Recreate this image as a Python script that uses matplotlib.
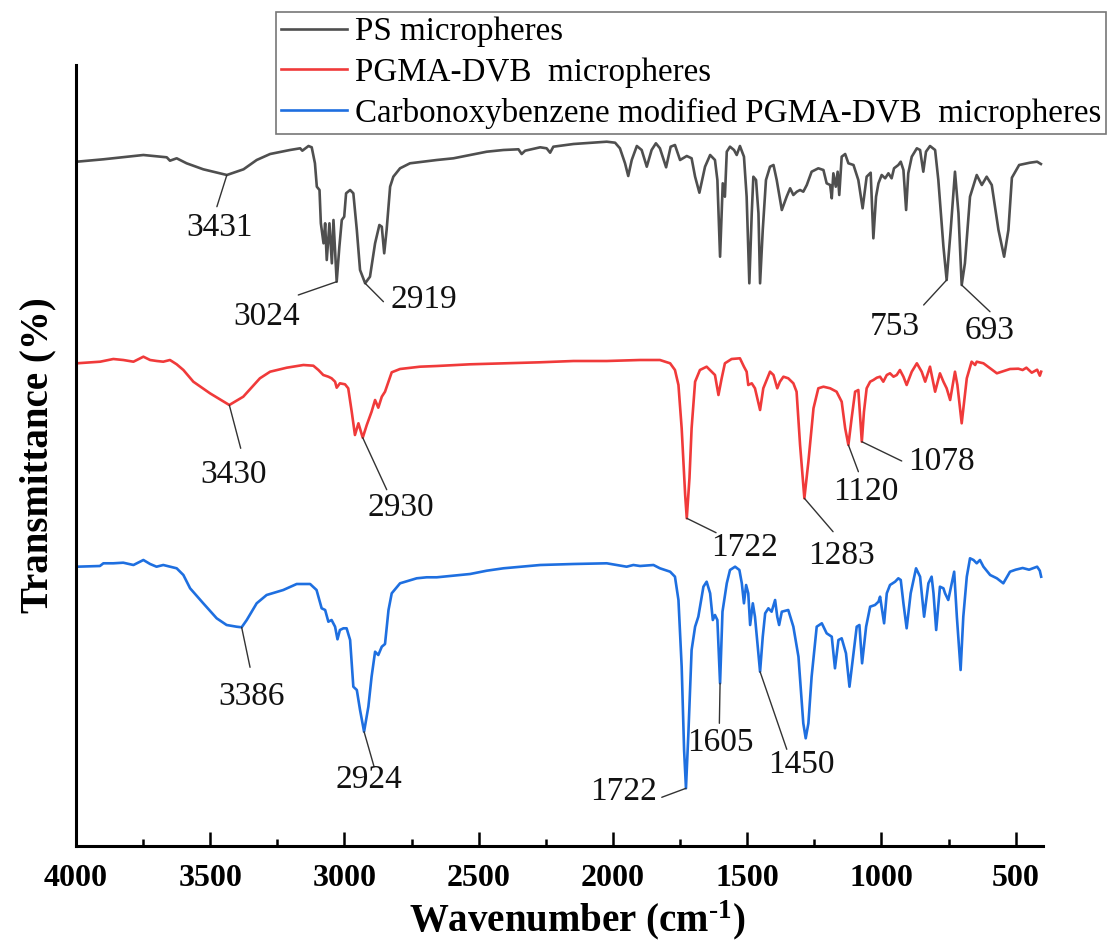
import numpy as np
import matplotlib
matplotlib.use("Agg")
import matplotlib.pyplot as plt
from matplotlib.ticker import MultipleLocator
from matplotlib.lines import Line2D

plt.rcParams['font.family'] = ['Liberation Serif', 'DejaVu Serif']
plt.rcParams['mathtext.fontset'] = 'custom'
plt.rcParams['mathtext.rm'] = 'Liberation Serif'
plt.rcParams['mathtext.bf'] = 'Liberation Serif:bold'
plt.rcParams['mathtext.default'] = 'regular'

# ---------------- data (wavenumber cm-1, transmittance a.u.) ----------------
PS_POINTS = [
    (3997, 684), (3898, 686.4), (3749, 690.7), (3662, 688.4), (3650, 685), (3625, 687.4),
    (3588, 682.4), (3526, 676.4), (3438, 670.7), (3376, 676.4), (3327, 685.7), (3277, 691.7),
    (3203, 695.7), (3165, 697.4), (3157, 695), (3134, 699.7), (3122, 698.4), (3110, 682.4),
    (3103, 659), (3093, 655.7), (3088, 622.4), (3078, 602.4), (3072, 622.4), (3066, 585.7),
    (3056, 622.4), (3047, 582.4), (3041, 625.7), (3029, 564), (3019, 599), (3010, 625.7),
    (3001, 629), (2994, 652.4), (2979, 655.7), (2967, 652.4), (2954, 615.7), (2942, 575.7),
    (2923, 562.4), (2905, 569), (2886, 602.4), (2870, 620.7), (2861, 619), (2852, 592.4),
    (2843, 615.7), (2830, 659), (2818, 669), (2793, 677.4), (2756, 682.4), (2656, 685.7),
    (2594, 687.4), (2532, 690.7), (2470, 694), (2408, 695.7), (2352, 696.4), (2340, 691.7),
    (2327, 695), (2271, 698.4), (2247, 697.4), (2234, 693), (2222, 699), (2147, 701.7),
    (2023, 704), (1992, 703), (1974, 697.4), (1955, 682.4), (1943, 669.7), (1930, 685.7),
    (1911, 699.7), (1893, 695.7), (1874, 679), (1856, 695.7), (1840, 702.4), (1825, 697.4),
    (1802, 678.4), (1785, 699), (1769, 700.7), (1750, 685.7), (1725, 689.7), (1707, 687.4),
    (1694, 669), (1678, 653), (1657, 679), (1638, 690.7), (1620, 685.7), (1611, 665.7),
    (1601, 589), (1591, 662.4), (1583, 649), (1576, 694), (1564, 699), (1549, 695.7),
    (1539, 690.7), (1527, 699.7), (1512, 689), (1502, 649), (1492, 562.4), (1483, 632.4),
    (1477, 669), (1467, 665.7), (1458, 632.4), (1452, 562.4), (1442, 615.7), (1430, 665.7),
    (1415, 679), (1402, 680.7), (1390, 665.7), (1371, 635.7), (1353, 649), (1340, 657.4),
    (1328, 650.7), (1315, 654), (1303, 655.7), (1291, 654), (1278, 660.7), (1260, 674),
    (1235, 677.4), (1216, 675.7), (1204, 662.4), (1191, 660.7), (1185, 647.4), (1179, 672.4),
    (1170, 659), (1163, 674), (1157, 650.7), (1148, 689), (1135, 691.7), (1123, 682.4),
    (1104, 680.7), (1086, 665.7), (1070, 637.4), (1055, 669), (1040, 673), (1030, 607.4),
    (1020, 649), (1011, 662.4), (999, 670.7), (986, 667.4), (974, 672.4), (962, 667.4),
    (953, 677.4), (937, 680.7), (928, 684), (918, 675.7), (908, 635.7), (900, 672.4),
    (887, 689), (868, 697.4), (856, 695.7), (844, 674), (834, 694), (819, 699.7),
    (800, 695.7), (788, 665.7), (769, 599), (757, 565.7), (742, 615.7), (726, 674),
    (713, 632.4), (701, 560.7), (689, 582.4), (670, 649), (645, 670.7), (626, 660.7),
    (608, 669), (589, 660.7), (564, 615.7), (543, 589), (527, 615.7), (514, 668),
    (487, 680.7), (447, 683), (420, 684), (406, 681.7),
]

PGMA_POINTS = [
    (3997, 482.4), (3910, 484), (3861, 486.7), (3824, 485.7), (3786, 484), (3749, 489),
    (3724, 485.7), (3699, 484.7), (3675, 484), (3650, 485.7), (3625, 481.4), (3600, 475.7),
    (3563, 464), (3501, 452.4), (3429, 440.7), (3377, 449), (3315, 467.4), (3277, 474),
    (3215, 478), (3153, 480.7), (3116, 480), (3097, 475.7), (3079, 470.7), (3060, 469),
    (3048, 467.4), (3035, 464), (3029, 458), (3017, 462.4), (2998, 461.4), (2986, 457.4),
    (2973, 434), (2961, 410.7), (2948, 422.4), (2932, 408), (2917, 420.7), (2899, 434),
    (2886, 445.7), (2874, 438), (2861, 449), (2849, 454), (2836, 464), (2824, 473.4),
    (2793, 476.7), (2719, 479), (2656, 479.7), (2532, 481.4), (2408, 482.4), (2272, 483.4),
    (2147, 484.7), (2023, 484.7), (1899, 485.7), (1825, 485.7), (1787, 482.4), (1769, 475.7),
    (1756, 460.7), (1744, 417.4), (1731, 350.7), (1725, 327.4), (1715, 367.4), (1707, 417.4),
    (1694, 464), (1676, 475.7), (1651, 479), (1632, 474), (1620, 470.7), (1607, 450.7),
    (1595, 467.4), (1583, 482.4), (1558, 486.7), (1527, 487.4), (1512, 479), (1502, 474),
    (1496, 460.7), (1483, 462.4), (1471, 457.4), (1452, 435.7), (1440, 457.4), (1415, 474),
    (1402, 470.7), (1388, 457.4), (1378, 464), (1365, 469), (1347, 467.4), (1328, 462.4),
    (1316, 454), (1303, 400.7), (1287, 347.4), (1272, 384), (1253, 437.4), (1235, 457.4),
    (1216, 459), (1191, 457.4), (1167, 454), (1148, 444), (1135, 417.4), (1123, 400.7),
    (1111, 427.4), (1098, 454), (1086, 455.7), (1073, 404), (1065, 434), (1055, 457.4),
    (1042, 464), (1030, 465.7), (1017, 468), (1005, 469), (993, 464), (980, 470.7),
    (968, 472.4), (955, 469), (943, 470.7), (931, 475.7), (918, 469), (906, 460.7),
    (887, 474), (868, 482.4), (850, 474), (837, 464), (819, 479), (800, 454),
    (782, 472.4), (769, 464), (757, 457.4), (744, 445.7), (726, 474), (717, 460.7),
    (701, 422.4), (682, 467.4), (664, 484), (651, 480.7), (645, 484), (620, 482.4),
    (595, 477.4), (570, 472.4), (552, 474), (533, 475.7), (521, 476.7), (490, 477),
    (474, 475.7), (460, 478), (440, 473), (420, 476), (410, 470), (405, 474),
]

MOD_POINTS = [
    (3997, 279), (3911, 279.7), (3898, 282.4), (3861, 282.4), (3824, 283), (3786, 280.7),
    (3749, 285.7), (3724, 281.7), (3700, 279), (3675, 280.7), (3650, 279), (3625, 277.4),
    (3600, 270.7), (3575, 257.4), (3526, 242.4), (3476, 227.4), (3439, 220.7), (3402, 219),
    (3383, 218.4), (3364, 225.7), (3327, 242.4), (3290, 250.7), (3228, 255.7), (3178, 261.7),
    (3128, 261.7), (3104, 255.7), (3085, 237.4), (3072, 235.7), (3060, 224), (3048, 225.7),
    (3035, 219), (3026, 206.4), (3017, 215.7), (3004, 217.4), (2992, 217.4), (2979, 205.7),
    (2967, 159), (2954, 155.7), (2942, 135.7), (2927, 114), (2911, 139), (2899, 169),
    (2886, 194), (2874, 190.7), (2861, 199), (2849, 201.7), (2836, 235.7), (2824, 252.4),
    (2793, 262.4), (2731, 267.4), (2694, 268.4), (2656, 268.4), (2532, 271.7), (2470, 275),
    (2408, 277.4), (2271, 280.7), (2147, 281.7), (2023, 282.4), (1949, 279), (1924, 280.7),
    (1899, 279.7), (1849, 280.7), (1825, 277.4), (1787, 274), (1769, 269), (1756, 245.7),
    (1744, 179), (1735, 95.7), (1728, 57.4), (1719, 112.4), (1707, 195.7), (1694, 219),
    (1682, 229), (1663, 259), (1651, 264), (1638, 252.4), (1628, 225.7), (1620, 230.7),
    (1611, 225.7), (1601, 162.4), (1592, 234), (1576, 262.4), (1564, 275.7), (1545, 279),
    (1529, 275.7), (1520, 262.4), (1512, 242.4), (1504, 260.7), (1496, 252.4), (1489, 220.7),
    (1479, 242.4), (1471, 229), (1462, 202.4), (1452, 174), (1442, 209), (1433, 232.4),
    (1421, 237.4), (1409, 234), (1396, 245.7), (1388, 229), (1381, 220.7), (1371, 234),
    (1347, 235.7), (1328, 219), (1309, 189), (1291, 122.4), (1282, 107.4), (1272, 122.4),
    (1260, 169), (1241, 219), (1222, 222.4), (1204, 212.4), (1185, 209), (1173, 177.4),
    (1160, 205.7), (1148, 207.4), (1132, 192.4), (1119, 159), (1107, 185.7), (1092, 219),
    (1082, 220.7), (1072, 182.4), (1057, 219), (1042, 239), (1024, 240.7), (1011, 244),
    (1005, 249), (990, 222.4), (980, 252.4), (968, 260.7), (949, 264), (937, 267.4),
    (928, 265.7), (918, 242.4), (906, 217.4), (891, 252.4), (871, 277.4), (856, 269),
    (841, 229), (825, 262.4), (813, 269), (806, 252.4), (796, 215.7), (788, 240.7),
    (782, 259), (769, 257.4), (763, 252.4), (751, 245.7), (738, 262.4), (729, 274),
    (719, 229), (705, 175.7), (695, 229), (682, 269), (670, 287.4), (657, 285.7),
    (645, 282.4), (633, 285.7), (620, 279), (595, 270.7), (570, 267.4), (546, 262.4),
    (521, 274), (500, 276), (474, 277.7), (450, 276), (420, 279), (410, 275), (405, 269),
]

SERIES_NAMES = ["PS micropheres",
                "PGMA-DVB  micropheres",
                "Carbonoxybenzene modified PGMA-DVB  micropheres"]
SERIES_COLORS = ["#4f4f4f", "#f03a3a", "#1e6fe0"]

X_TICKS = [4000, 3500, 3000, 2500, 2000, 1500, 1000, 500]

# peak labels: (series index, label, peak wavenumber)
PEAK_LABELS = [
    (0, "3431", 3438), (0, "3024", 3029), (0, "2919", 2923), (0, "753", 757), (0, "693", 701),
    (1, "3430", 3429), (1, "2930", 2932), (1, "1722", 1725), (1, "1283", 1287),
    (1, "1120", 1123), (1, "1078", 1073),
    (2, "3386", 3383), (2, "2924", 2927), (2, "1722", 1728), (2, "1605", 1601), (2, "1450", 1452),
]
# leader-line end and label centre, offsets in pixels from the peak
LABEL_OFFSETS = [
    ((-10, -31.7), (-7.7, -54.5)), ((-38.4, -13.3), (-70.2, -36.8)), ((18.3, -18.4), (59, -18.2)),
    ((-23, -25), (-52, -48.5)), ((28.3, -26.7), (28.3, -48)),
    ((11.4, -43.3), (4, -71.7)), ((24, -52), (38.1, -72)), ((29.3, -14.4), (57.3, -31.2)),
    ((28.7, -33.4), (36.7, -59.7)), ((10, -26.7), (17.7, -49)), ((39.9, -19.3), (79.2, -22.3)),
    ((8.4, -40), (10.1, -71.4)), ((10, -35), (5, -50)), ((-24.2, -9), (-62.6, -5)),
    ((-0.7, -40), (0.8, -61.7)), ((26.7, -77.6), (41.7, -95)),
]

# ---------------- figure ----------------
W, H = 1109, 942
fig = plt.figure(figsize=(W / 100, H / 100), dpi=100)
ax = fig.add_axes([76 / W, 1 - 845.7 / H, (1042.5 - 76) / W, (845.7 - 65) / H])

series = [np.array(PS_POINTS), np.array(PGMA_POINTS), np.array(MOD_POINTS)]
handles = []
for pts, name, col in zip(series, SERIES_NAMES, SERIES_COLORS):
    ax.plot(pts[:, 0], pts[:, 1], color=col, lw=1.9, solid_joinstyle='round')
    handles.append(Line2D([], [], color=col, lw=1.9))

ax.set_xlim(4000, 400)
ax.set_ylim(0, 780.7)
ax.set_yticks([])
ax.set_xticks(X_TICKS)
ax.set_xticklabels([str(t) for t in X_TICKS])
ax.xaxis.set_minor_locator(MultipleLocator(250))
ax.tick_params(axis='x', which='major', direction='in', length=10, width=1.8,
               labelsize=23, pad=13)
ax.tick_params(axis='x', which='minor', direction='in', length=5, width=1.8)
for lab in ax.get_xticklabels():
    lab.set_fontweight('bold')
for side in ['top', 'right']:
    ax.spines[side].set_visible(False)
for side in ['left', 'bottom']:
    ax.spines[side].set_linewidth(2.2)

ax.set_xlabel(r"Wavenumber (cm$^{\text{-}1}$)", fontsize=28, fontweight='bold')
ax.xaxis.set_label_coords((577 - 76) / (1042.5 - 76), -(898 - 845.7) / 780.7)
ax.set_ylabel("Transmittance (%)", fontsize=28, fontweight='bold', labelpad=14)

for (si, label, pk), (lo, to) in zip(PEAK_LABELS, LABEL_OFFSETS):
    pts = series[si]
    yv = np.interp(pk, pts[::-1, 0], pts[::-1, 1])
    ax.annotate("", xy=(pk, yv), xytext=lo, textcoords='offset pixels',
                arrowprops=dict(arrowstyle='-', color='#333333', lw=1.0,
                                shrinkA=0, shrinkB=0))
    ax.annotate(label, xy=(pk, yv), xytext=(to[0], to[1] + 2), textcoords='offset pixels',
                ha='center', va='center', fontsize=24, color='#111111')

leg = fig.legend(handles, SERIES_NAMES, loc='upper right',
                 bbox_to_anchor=(1106 / W, 1 - 11.7 / H), bbox_transform=fig.transFigure,
                 fontsize=23.8, frameon=True, fancybox=False, edgecolor='#555555',
                 borderpad=0.15, handlelength=2.0, handletextpad=0.24, labelspacing=0.3,
                 borderaxespad=0)
leg.get_frame().set_linewidth(1.2)

fig.savefig("out.png", dpi=100)
